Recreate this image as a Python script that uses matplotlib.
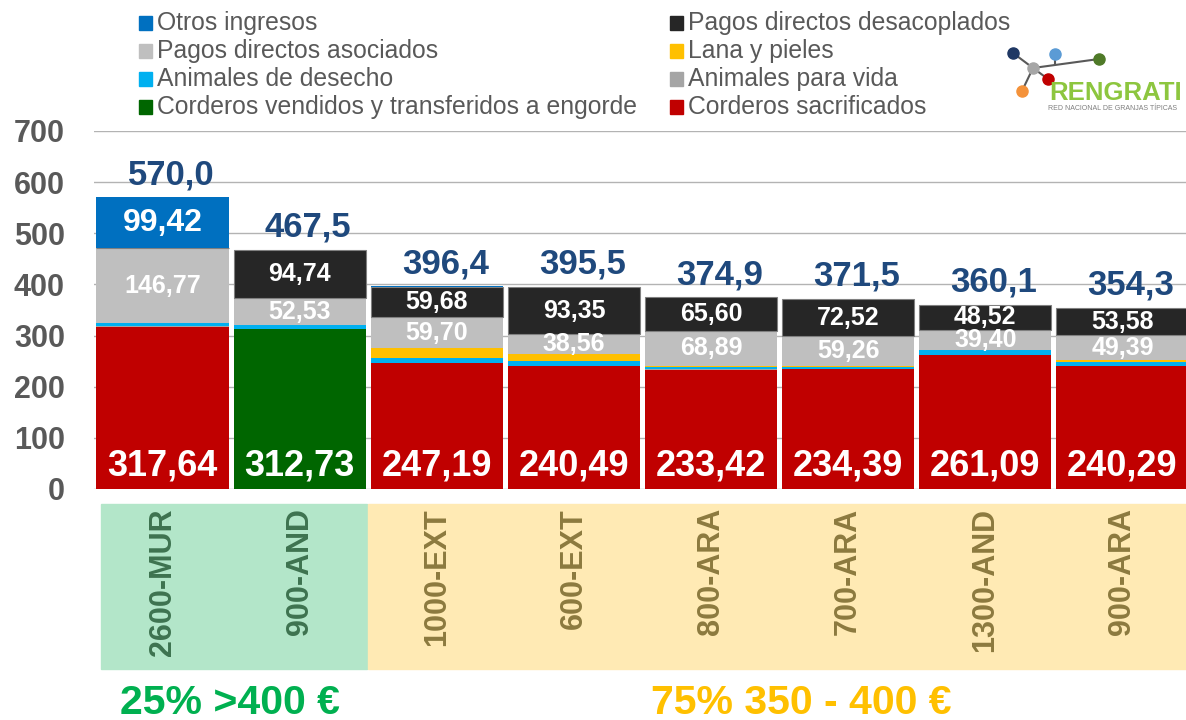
import numpy as np
import matplotlib
matplotlib.use("Agg")
import matplotlib.pyplot as plt
from matplotlib.patches import Rectangle
import matplotlib.transforms as mtransforms

plt.rcParams['font.family'] = ['Liberation Sans', 'DejaVu Sans']

# data
farms = ['2600-MUR', '900-AND', '1000-EXT', '600-EXT', '800-ARA', '700-ARA', '1300-AND', '900-ARA']
sacrificados = [317.64, 0, 247.19, 240.49, 233.42, 234.39, 261.09, 240.29]
vendidos = [0, 312.73, 0, 0, 0, 0, 0, 0]
para_vida = [1.2, 1.0, 0, 0.5, 1.0, 0, 0, 0]
desecho = [5.0, 6.5, 9.5, 9.3, 3.5, 3.5, 11.09, 8.6]
lana = [0, 0, 19.0, 13.3, 2.49, 1.83, 0, 2.44]
asociados = [146.77, 52.53, 59.70, 38.56, 68.89, 59.26, 39.40, 49.39]
desacoplados = [0, 94.74, 59.68, 93.35, 65.60, 72.52, 48.52, 53.58]
otros = [99.42, 0, 1.33, 0, 0, 0, 0, 0]
totals = [570.0, 467.5, 396.4, 395.5, 374.9, 371.5, 360.1, 354.3]
groups = ['25% >400 €', '75% 350 - 400 €']

# stacking order bottom -> top
series = [
    ('Corderos sacrificados', sacrificados, '#C00000'),
    ('Corderos vendidos y transferidos a engorde', vendidos, '#006600'),
    ('Animales para vida', para_vida, '#A5A5A5'),
    ('Animales de desecho', desecho, '#00B0F0'),
    ('Lana y pieles', lana, '#FFC000'),
    ('Pagos directos asociados', asociados, '#BFBFBF'),
    ('Pagos directos desacoplados', desacoplados, '#262626'),
    ('Otros ingresos', otros, '#0070C0'),
]

W, H = 1186, 720
fig = plt.figure(figsize=(W / 100, H / 100), dpi=100)
ax = fig.add_axes([94 / W, 1 - 489 / H, (1191 - 94) / W, (489 - 131) / H])

x = np.arange(len(farms))
bottom = np.zeros(len(farms))
for name, vals, col in series:
    vals = np.array(vals, dtype=float)
    edge = '#808080' if name == 'Pagos directos desacoplados' else 'none'
    ax.bar(x, vals, bottom=bottom, width=0.965, color=col, edgecolor=edge, lw=0.8, zorder=2)
    if name in ('Corderos sacrificados', 'Corderos vendidos y transferidos a engorde'):
        for i, v in enumerate(vals):
            if v > 0:
                ax.text(i, 27, f'{v:.2f}'.replace('.', ','), ha='center', va='baseline',
                        color='white', fontsize=26, fontweight='bold', zorder=3)
    elif name in ('Pagos directos asociados', 'Pagos directos desacoplados', 'Otros ingresos'):
        for i, v in enumerate(vals):
            if v > 20:
                fs = 23 if name == 'Otros ingresos' else 18
                ax.text(i, bottom[i] + v / 2, f'{v:.2f}'.replace('.', ','), ha='center',
                        va='center', color='white', fontsize=fs, fontweight='bold', zorder=3)
    bottom += vals

for i, t in enumerate(totals):
    ax.annotate(f'{t:.1f}'.replace('.', ','), (i, bottom[i]), xytext=(6, 9.5),
                textcoords='offset points', ha='center', va='baseline',
                color='#1F497D', fontsize=25, fontweight='bold')

ax.set_xlim(-0.5, len(farms) - 0.5)
ax.set_ylim(0, 700)
ax.set_yticks(range(0, 701, 100))
ax.yaxis.grid(True, color='#B3B3B3', lw=1, zorder=0)
ax.set_axisbelow(True)
ax.set_xticks([])
ax.tick_params(axis='y', length=0, pad=21, labelsize=22, labelcolor='#595959')
for lab in ax.get_yticklabels():
    lab.set_fontweight('bold')
for s in ax.spines.values():
    s.set_visible(False)

# category boxes under the chart
fig.patches.append(Rectangle((101 / W, 1 - 669 / H), (367 - 101) / W, 165 / H,
                             transform=fig.transFigure, color='#B3E6C9', zorder=-1))
fig.patches.append(Rectangle((368 / W, 1 - 669 / H), (W - 368) / W, 165 / H,
                             transform=fig.transFigure, color='#FFEAB4', zorder=-1))
trans = mtransforms.blended_transform_factory(ax.transData, fig.transFigure)
for i, f in enumerate(farms):
    ax.text(i, 1 - 508 / H, f, transform=trans, rotation=90, ha='center', va='top',
            fontsize=22, fontweight='bold', color='#3E7350' if i < 2 else '#8C7A3F',
            clip_on=False)

fig.text(230 / W, 1 - 714 / H, groups[0], ha='center', va='baseline', fontsize=29.5,
         fontweight='bold', color='#00B050')
fig.text(801 / W, 1 - 714 / H, groups[1], ha='center', va='baseline', fontsize=29.5,
         fontweight='bold', color='#FFC000')

# legend, two columns of four
legend_order = ['Otros ingresos', 'Pagos directos asociados', 'Animales de desecho',
                'Corderos vendidos y transferidos a engorde', 'Pagos directos desacoplados',
                'Lana y pieles', 'Animales para vida', 'Corderos sacrificados']
colors = {n: c for n, _, c in series}
for k, name in enumerate(legend_order):
    col_x = 139 if k < 4 else 670
    row_y = [23, 51, 79, 107][k % 4]
    fig.patches.append(Rectangle((col_x / W, 1 - (row_y + 6.5) / H), 13 / W, 13 / H,
                                 transform=fig.transFigure, color=colors[name]))
    fig.text((col_x + 18) / W, 1 - row_y / H, name, ha='left', va='center',
             fontsize=17.8, color='#595959')

# logo
def px(xp, yp):
    return xp / W, 1 - yp / H

hub = (1033, 68)
for end in [(1013, 53), (1022, 91), (1048, 79), (1099, 59)]:
    fig.add_artist(plt.Line2D(*zip(px(*hub), px(*end)), color='#595959', lw=1.5,
                              transform=fig.transFigure))
fig.add_artist(plt.Line2D(*zip(px(1055, 54), px(1055, 64)), color='#595959', lw=1.5,
                          transform=fig.transFigure))
for (cx, cy), c in [((1013, 53), '#1F3864'), ((1033, 68), '#A6A6A6'), ((1055, 54), '#5B9BD5'),
                    ((1099, 59), '#4F7A28'), ((1048, 79), '#C00000'), ((1022, 91), '#F4923A')]:
    fig.add_artist(plt.Line2D([cx / W], [1 - cy / H], marker='o', markersize=8, color=c,
                              transform=fig.transFigure))
fig.text(1049 / W, 1 - 100 / H, 'RENGRATI', ha='left', va='baseline', fontsize=18.5,
         fontweight='bold', color='#8DC63F')
fig.text(1048 / W, 1 - 108 / H, 'RED NACIONAL DE GRANJAS TÍPICAS', ha='left', va='center',
         fontsize=5.0, color='#7F7F7F')

fig.savefig('out.png', dpi=100)
